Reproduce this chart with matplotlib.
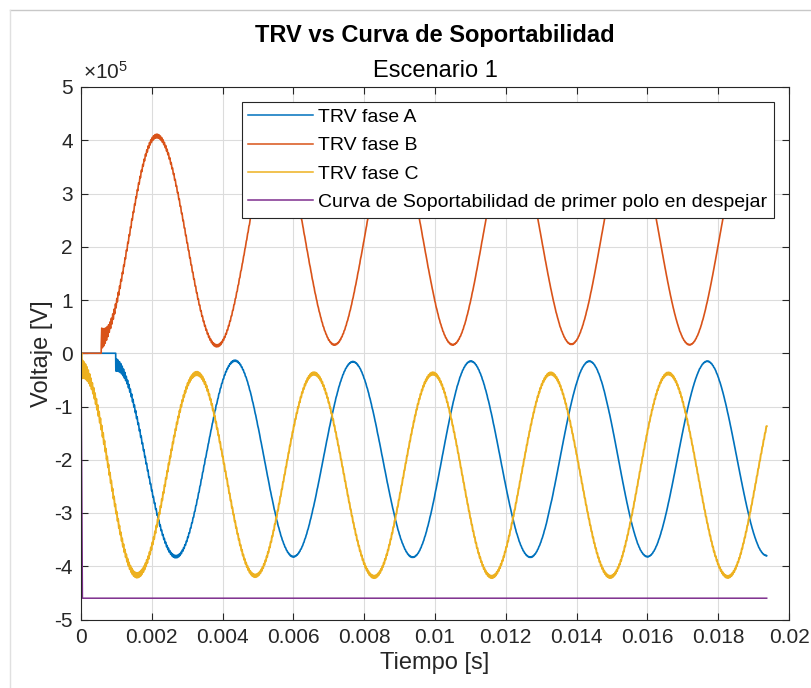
import numpy as np
import matplotlib
matplotlib.use("Agg")
import matplotlib.pyplot as plt
from matplotlib.lines import Line2D

plt.rcParams["font.family"] = ["Liberation Sans", "DejaVu Sans"]
plt.rcParams["mathtext.fontset"] = "custom"
plt.rcParams["mathtext.rm"] = "Liberation Sans"
plt.rcParams["mathtext.it"] = "Liberation Sans"
plt.rcParams["axes.unicode_minus"] = False

# ---- data (voltages in units of 1e5 V) ----
T_END = 0.01937

# Phase A: flat at 0 until the pole opens, then the recovery oscillation (extrema)
a_open = 0.00097
a_ext_t = [0.00098, 0.00268, 0.00435, 0.00600, 0.00768, 0.00937, 0.01101,
           0.01269, 0.01436, 0.01600, 0.01769, 0.01937]
a_ext_v = [-0.22, -3.82, -0.14, -3.82, -0.16, -3.83, -0.15,
           -3.83, -0.15, -3.82, -0.15, -3.80]
a_rip_t = [0.00098, 0.0013, 0.0020, 0.0030, 0.0050, 0.01937]
a_rip_v = [0.12, 0.05, 0.03, 0.02, 0.008, 0.005]

# Phase B
b_open = 0.00056
b_ext_t = [0.00057, 0.00214, 0.00384, 0.00551, 0.00716, 0.00883, 0.01050,
           0.01217, 0.01385, 0.01552, 0.01719, 0.01886, 0.02053]
b_ext_v = [0.28, 4.08, 0.14, 4.10, 0.16, 4.10, 0.16,
           4.10, 0.17, 4.10, 0.16, 4.10, 0.16]
b_rip_t = [0.00057, 0.0008, 0.0012, 0.0022, 0.0040, 0.0060, 0.01937]
b_rip_v = [0.20, 0.08, 0.04, 0.035, 0.02, 0.01, 0.005]

# Phase C
c_open = 0.0
c_ext_t = [0.00002, 0.00158, 0.00327, 0.00492, 0.00658, 0.00828, 0.00994,
           0.01160, 0.01327, 0.01495, 0.01659, 0.01827, 0.01993]
c_ext_v = [-0.30, -4.17, -0.38, -4.18, -0.38, -4.20, -0.38,
           -4.20, -0.38, -4.20, -0.38, -4.20, -0.38]
c_rip_t = [0.0, 0.0003, 0.0010, 0.0016, 0.0030, 0.0050, 0.01937]
c_rip_v = [0.18, 0.08, 0.05, 0.045, 0.035, 0.025, 0.02]

# Withstand curve of the first pole to clear
w_t = [0.0, 0.00004, 0.01937]
w_v = [0.0, -4.6, -4.6]

labels = ["TRV fase A", "TRV fase B", "TRV fase C",
          "Curva de Soportabilidad de primer polo en despejar"]
colors = ["#0072BD", "#D95319", "#EDB120", "#7E2F8E"]

x_ticks = [0, 0.002, 0.004, 0.006, 0.008, 0.01, 0.012, 0.014, 0.016, 0.018, 0.02]
x_ticklabels = ["0", "0.002", "0.004", "0.006", "0.008", "0.01", "0.012",
                "0.014", "0.016", "0.018", "0.02"]
y_ticks = [-5, -4, -3, -2, -1, 0, 1, 2, 3, 4, 5]
SCALE = 1e5


def waveform(t, t_open, ext_t, ext_v, rip_t, rip_v):
    """Zero before the opening instant, then half-cosine arcs between extrema
    plus the high-frequency ripple superimposed on the recovery voltage."""
    v = np.zeros_like(t)
    et = np.asarray(ext_t)
    ev = np.asarray(ext_v)
    for i in range(len(et) - 1):
        m = (t >= et[i]) & (t <= et[i + 1])
        ph = (t[m] - et[i]) / (et[i + 1] - et[i])
        v[m] = ev[i] + (ev[i + 1] - ev[i]) * (1 - np.cos(np.pi * ph)) / 2
    active = t >= et[0]
    amp = np.interp(t, rip_t, rip_v)
    v = v + active * amp * np.sin(2 * np.pi * 26000.0 * t)
    v[t <= t_open] = 0.0
    return v * SCALE


t = np.linspace(0.0, T_END, 60000)
va = waveform(t, a_open, a_ext_t, a_ext_v, a_rip_t, a_rip_v)
vb = waveform(t, b_open, b_ext_t, b_ext_v, b_rip_t, b_rip_v)
vc = waveform(t, c_open, c_ext_t, c_ext_v, c_rip_t, c_rip_v)
vc[0] = 0.0

W, H = 811, 688
fig = plt.figure(figsize=(W / 100, H / 100), dpi=100)
fig.patch.set_facecolor("white")

# light window frame
fig.add_artist(Line2D([10 / W, 1.0], [1 - 10 / H, 1 - 10 / H],
                      transform=fig.transFigure, color="#c8c8c8", lw=1.0))
fig.add_artist(Line2D([9.5 / W, 9.5 / W], [0.0, 1 - 10 / H],
                      transform=fig.transFigure, color="#e0e0e0", lw=1.0))

left, right, top, bottom = 81 / W, 789 / W, 87 / H, 619.5 / H
ax = fig.add_axes([left, 1 - bottom, right - left, bottom - top])

ax.plot(t, va, color=colors[0], lw=1.2, label=labels[0])
ax.plot(t, vb, color=colors[1], lw=1.2, label=labels[1])
ax.plot(t, vc, color=colors[2], lw=1.4, label=labels[2])
ax.plot(w_t, np.asarray(w_v) * SCALE, color=colors[3], lw=1.1, label=labels[3])

ax.set_xlim(0, 0.02)
ax.set_ylim(-5 * SCALE, 5 * SCALE)
ax.set_xticks(x_ticks)
ax.set_xticklabels(x_ticklabels)
ax.set_yticks([v * SCALE for v in y_ticks])
ax.set_yticklabels([str(v) for v in y_ticks])

ax.grid(True, color="#dcdcdc", lw=0.8)
ax.set_axisbelow(True)
for s in ax.spines.values():
    s.set_color("#262626")
    s.set_linewidth(0.8)
ax.tick_params(direction="in", length=5, width=0.8, color="#262626",
               labelsize=15, labelcolor="#262626", top=True, right=True,
               pad=6)

ax.set_xlabel("Tiempo [s]", fontsize=17, color="#262626", labelpad=4)
ax.set_ylabel("Voltaje [V]", fontsize=17, color="#262626", labelpad=1)

fig.text(0.5 * (left + right), 1 - 42 / H, "TRV vs Curva de Soportabilidad",
         ha="center", va="baseline", fontsize=17, fontweight="bold",
         color="black")
fig.text(0.5 * (left + right), 1 - 77 / H, "Escenario 1",
         ha="center", va="baseline", fontsize=17, color="black")
fig.text(83 / W, 1 - 79 / H, r"$\times 10^{5}$", ha="left", va="baseline",
         fontsize=15, color="#262626")

leg = ax.legend(loc="upper right", fontsize=14, frameon=True, fancybox=False,
                framealpha=1.0, edgecolor="#262626", borderaxespad=0.75,
                handlelength=3.3, handletextpad=0.3, borderpad=0.35,
                labelspacing=0.55)
leg.get_frame().set_linewidth(0.8)
for line in leg.get_lines():
    line.set_linewidth(1.1)

fig.savefig("out.png", dpi=100)
